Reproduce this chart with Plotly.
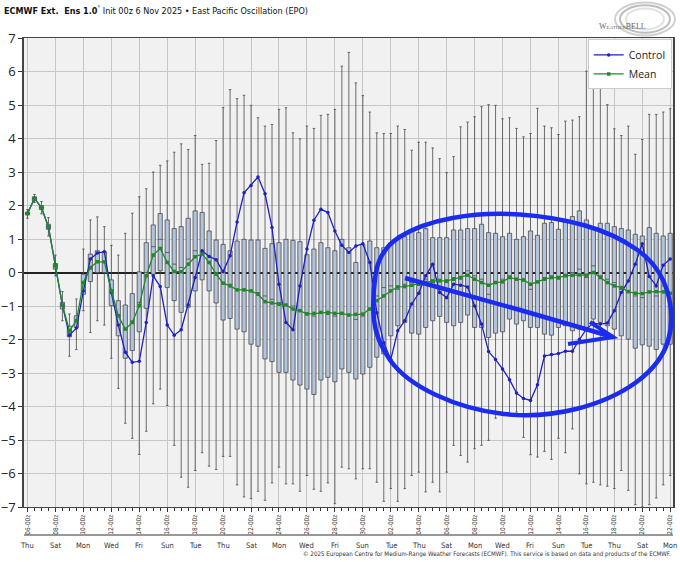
import plotly.graph_objects as go

# ECMWF extended ensemble EPO, init 00z 6 Nov 2025, 12-hourly steps (hours since init)
STEP_HOURS = list(range(0, 1105, 12))

CONTROL = [1.76, 2.21, 1.94, 1.36, 0.20, -0.98, -1.87, -1.66, -0.55, 0.40,
           0.58, 0.62, -0.60, -1.57, -2.38, -2.68, -2.65, -1.49, -0.10, -0.42,
           -1.57, -1.87, -1.71, -0.97, -0.15, 0.65, 0.48, 0.38, 0.02, 0.50,
           1.51, 2.38, 2.60, 2.85, 2.35, 1.34, -0.35, -1.49, -1.71, -0.40,
           0.70, 1.56, 1.89, 1.79, 1.24, 0.81, 0.60, 0.79, 0.86, 0.30,
           -1.20, -2.10, -2.60, -1.74, -1.44, -0.94, -0.62, -0.10, 0.25, -0.60,
           -0.75, -0.35, -0.38, -0.43, -1.00, -1.54, -2.36, -2.60, -2.88, -3.20,
           -3.60, -3.76, -3.82, -3.35, -2.49, -2.45, -2.42, -2.35, -2.35, -2.00,
           -1.69, -1.51, -1.54, -1.51, -1.14, -0.60, -0.25, 0.25, 0.86, -0.12,
           -0.40, 0.22, 0.40]

MEAN = [1.76, 2.21, 1.94, 1.36, 0.20, -0.97, -1.74, -1.44, -0.30, 0.15,
        0.32, 0.32, -0.55, -1.29, -1.69, -1.49, -0.99, -0.10, 0.52, 0.72,
        0.30, 0.03, 0.02, 0.25, 0.47, 0.55, 0.30, -0.05, -0.32, -0.40,
        -0.52, -0.52, -0.55, -0.65, -0.87, -0.91, -0.95, -0.97, -1.09, -1.14,
        -1.24, -1.22, -1.19, -1.19, -1.22, -1.22, -1.27, -1.25, -1.24, -1.09,
        -0.84, -0.70, -0.55, -0.43, -0.42, -0.38, -0.35, -0.30, -0.25, -0.25,
        -0.25, -0.20, -0.15, -0.08, -0.20, -0.30, -0.38, -0.30, -0.28, -0.15,
        -0.20, -0.22, -0.35, -0.28, -0.20, -0.15, -0.15, -0.10, -0.08, -0.07,
        -0.08, 0.00, -0.15, -0.30, -0.40, -0.45, -0.57, -0.62, -0.63, -0.58,
        -0.57, -0.58, -0.62]

MEDIAN = [1.76, 2.21, 1.94, 1.36, 0.20, -0.98, -1.76, -1.46, -0.32, 0.10,
          0.30, 0.30, -0.55, -1.30, -1.70, -1.45, -0.90, 0.00, 0.77, 0.99,
          0.60, 0.25, 0.15, 0.40, 0.65, 0.62, 0.30, 0.00, -0.30, -0.35,
          -0.50, -0.50, -0.55, -0.60, -0.70, -0.80, -0.90, -0.98, -1.00, -1.15,
          -1.20, -1.30, -1.20, -1.25, -1.30, -1.20, -1.25, -1.40, -1.30, -1.10,
          -0.70, -0.45, -0.40, -0.50, -0.35, -0.30, -0.25, -0.20, -0.30, -0.20,
          -0.30, -0.15, -0.20, 0.05, -0.10, -0.20, -0.65, -0.30, -0.20, -0.10,
          -0.20, -0.25, -0.50, -0.30, -0.15, -0.10, -0.20, -0.05, 0.00, 0.10,
          -0.15, 0.20, -0.10, -0.20, -0.30, -0.50, -0.60, -0.70, -0.75, -0.60,
          -0.70, -0.40, -0.60]

Q1 = [1.72, 2.15, 1.88, 1.29, 0.10, -1.09, -1.92, -1.64, -0.65, -0.27,
      0.00, 0.00, -0.99, -1.89, -2.56, -2.33, -1.77, -1.07, -0.05, 0.05,
      -0.45, -0.84, -1.19, -1.04, -0.55, -0.22, -0.55, -0.91, -1.42, -1.37,
      -1.69, -1.77, -2.14, -2.20, -2.58, -2.66, -2.98, -2.98, -3.21, -3.36,
      -3.48, -3.64, -3.21, -3.13, -3.26, -2.88, -2.98, -3.18, -3.03, -2.83,
      -2.53, -2.43, -1.89, -1.59, -1.49, -1.81, -1.84, -1.64, -1.44, -1.31,
      -1.49, -1.59, -1.49, -1.27, -1.64, -1.64, -1.94, -1.81, -1.77, -1.39,
      -1.54, -1.44, -1.64, -1.64, -1.84, -1.87, -1.64, -1.59, -1.74, -1.69,
      -1.64, -1.39, -1.49, -1.59, -1.69, -1.89, -1.99, -2.26, -2.16, -2.20,
      -2.30, -2.14, -2.14]

Q3 = [1.80, 2.26, 2.00, 1.44, 0.27, -0.89, -1.60, -1.29, -0.05, 0.55,
      0.65, 0.62, -0.22, -0.84, -0.97, -0.63, 0.02, 0.89, 1.42, 1.76,
      1.57, 1.31, 1.37, 1.62, 1.84, 1.79, 1.24, 0.97, 0.84, 0.65,
      0.94, 0.99, 0.97, 0.97, 0.72, 0.86, 0.89, 0.99, 0.96, 0.92,
      0.53, 0.70, 0.89, 0.74, 0.65, 0.99, 0.74, 0.30, 0.84, 0.94,
      0.74, 0.74, 0.89, 0.99, 1.07, 1.24, 1.19, 1.31, 1.04, 1.04,
      1.04, 1.27, 1.27, 1.31, 1.31, 1.44, 1.19, 1.17, 1.07, 1.17,
      0.99, 1.07, 1.24, 1.11, 1.47, 1.49, 1.29, 1.51, 1.67, 1.84,
      1.57, 1.31, 1.47, 1.47, 1.37, 1.31, 1.27, 1.14, 1.09, 1.34,
      1.17, 1.09, 1.17]

ENS_MIN = [1.62, 2.09, 1.75, 1.09, -0.10, -1.44, -2.50, -2.30, -1.14, -1.79,
           -1.44, -1.57, -2.56, -3.46, -4.50, -4.95, -5.43, -4.74, -3.92, -3.48,
           -3.97, -5.16, -6.11, -6.41, -5.91, -5.38, -5.78, -5.88, -5.49, -5.49,
           -6.34, -6.70, -6.75, -6.53, -6.80, -6.28, -5.81, -6.31, -6.31, -6.53,
           -6.06, -6.47, -6.53, -6.28, -6.90, -5.81, -5.86, -6.16, -5.86, -5.86,
           -6.26, -6.83, -6.45, -6.83, -6.45, -6.06, -5.96, -6.55, -6.26, -6.55,
           -5.96, -5.16, -5.46, -5.66, -5.26, -5.16, -5.01, -4.35, -4.27, -4.22,
           -4.17, -4.92, -5.44, -5.51, -5.34, -5.58, -4.95, -5.38, -4.67, -6.01,
           -6.31, -6.26, -6.34, -6.38, -6.45, -5.91, -6.50, -6.93, -7.00, -6.93,
           -6.73, -6.34, -6.06]

ENS_MAX = [1.88, 2.33, 2.12, 1.64, 0.52, -0.57, -1.24, -0.79, 0.70, 1.57,
           1.66, 1.37, 0.81, 0.52, 1.17, 1.77, 2.26, 2.50, 3.00, 3.20,
           3.33, 3.59, 3.84, 3.67, 4.09, 3.23, 3.26, 3.94, 4.92, 5.46,
           5.19, 5.29, 4.99, 4.62, 4.37, 4.42, 4.87, 4.92, 4.17, 3.99,
           4.37, 4.30, 4.69, 4.72, 4.87, 6.16, 6.57, 5.66, 5.28, 4.79,
           4.17, 4.15, 4.15, 4.37, 4.27, 3.65, 3.89, 3.89, 3.72, 3.40,
           2.98, 3.46, 4.35, 4.49, 4.65, 4.95, 5.01, 4.99, 4.59, 4.62,
           4.30, 4.05, 4.15, 4.90, 4.37, 4.32, 4.12, 4.52, 4.55, 4.65,
           6.01, 6.41, 5.71, 5.01, 4.29, 4.09, 4.37, 3.53, 3.97, 4.72,
           4.72, 4.79, 4.89]

DATE_LABELS = ["06-00z", "08-00z", "10-00z", "12-00z", "14-00z", "16-00z",
               "18-00z", "20-00z", "22-00z", "24-00z", "26-00z", "28-00z",
               "30-00z", "02-00z", "04-00z", "06-00z", "08-00z", "10-00z",
               "12-00z", "14-00z", "16-00z", "18-00z", "20-00z", "22-00z"]
DAY_NAMES = ["Thu", "Sat", "Mon", "Wed", "Fri", "Sun", "Tue", "Thu", "Sat", "Mon",
             "Wed", "Fri", "Sun", "Tue", "Thu", "Sat", "Mon", "Wed", "Fri", "Sun",
             "Tue", "Thu", "Sat", "Mon"]

TITLE_BOLD = "ECMWF Ext.  Ens 1.0"
TITLE_REST = " Init 00z 6 Nov 2025 • East Pacific Oscillation (EPO)"
CREDIT = ("© 2025 European Centre for Medium-Range Weather Forecasts (ECMWF). "
          "This service is based on data and products of the ECMWF.")

days = [h / 24 for h in STEP_HOURS]
label_days = [2 * i for i in range(len(DATE_LABELS))]

NARROW = "Liberation Sans Narrow, DejaVu Sans Condensed, sans-serif"
W, H = 680, 562
L, R, T, B = 24, 7, 38, 55
PW, PH = W - L - R, H - T - B

fig = go.Figure()

fig.add_trace(go.Box(
    x=days, q1=Q1, median=MEDIAN, q3=Q3, lowerfence=ENS_MIN, upperfence=ENS_MAX,
    width=0.3, whiskerwidth=0.6, boxpoints=False,
    fillcolor="#b3c3dc", line=dict(color="#4a4a4a", width=0.8),
    showlegend=False, hoverinfo="skip",
))
fig.add_trace(go.Scatter(
    x=days, y=CONTROL, name="Control", mode="lines+markers",
    line=dict(color="#1f1fc4", width=1.3), marker=dict(size=3.5, color="#1f1fc4"),
))
fig.add_trace(go.Scatter(
    x=days, y=MEAN, name="Mean", mode="lines+markers",
    line=dict(color="#1f8a2a", width=1.3),
    marker=dict(size=3.5, symbol="square", color="#1f8a2a"),
))


# hand drawn highlight (pixel positions -> paper coords)
def px(xp, yp):
    return (xp - L) / PW, (H - B - yp) / PH


def smooth_closed(points):
    pts = [px(*p) for p in points]
    n = len(pts)
    mids = [((pts[i][0] + pts[(i + 1) % n][0]) / 2, (pts[i][1] + pts[(i + 1) % n][1]) / 2)
            for i in range(n)]
    path = f"M{mids[-1][0]},{mids[-1][1]}"
    for i in range(n):
        path += f" Q{pts[i][0]},{pts[i][1]} {mids[i][0]},{mids[i][1]}"
    return path


def polyline(points):
    pts = [px(*p) for p in points]
    return "M" + " L".join(f"{x},{y}" for x, y in pts)


loop = [(372, 300), (379, 250), (420, 224), (485, 212), (555, 217), (615, 234),
        (660, 266), (675, 318), (661, 364), (612, 400), (540, 418), (468, 410),
        (404, 380), (376, 340)]
blue = "#1b2cf0"
fig.add_shape(type="path", xref="paper", yref="paper", path=smooth_closed(loop),
              line=dict(color=blue, width=4.5))
fig.add_shape(type="path", xref="paper", yref="paper",
              path=polyline([(405, 278), (520, 310), (613, 337)]),
              line=dict(color=blue, width=4.5))
fig.add_shape(type="path", xref="paper", yref="paper",
              path=polyline([(590, 322), (613, 337), (568, 344)]),
              line=dict(color=blue, width=4))

# separator line under the date labels
fig.add_shape(type="line", xref="paper", yref="paper", x0=0, x1=1,
              y0=-28 / PH, y1=-28 / PH, line=dict(color="#333", width=1))

for d, name in zip(label_days, DAY_NAMES):
    fig.add_annotation(x=d, y=-38 / PH, xref="x", yref="paper", text=name,
                       showarrow=False, font=dict(size=7.5, color="#333", family=NARROW),
                       yanchor="middle")

fig.add_annotation(x=1, y=-47 / PH, xref="paper", yref="paper", text=CREDIT,
                   showarrow=False, xanchor="right", yanchor="middle",
                   font=dict(size=6.2, color="#333", family=NARROW))

# WeatherBELL logo
cx, cy = px(645, 19)
for r, c in [(30, "#d0d0d0"), (25, "#bdbdbd"), (19, "#e2e2e2")]:
    rx, ry = r / PW, (r * 0.55) / PH
    fig.add_shape(type="circle", xref="paper", yref="paper",
                  x0=cx - rx, x1=cx + rx, y0=cy - ry, y1=cy + ry,
                  line=dict(color=c, width=2), fillcolor="rgba(0,0,0,0)")
lx, ly = px(648, 20)
fig.add_annotation(x=lx, y=ly, xref="paper", yref="paper",
                   text="W<span style='font-size:5px'>EATHER</span>BELL",
                   showarrow=False, font=dict(size=8, color="#666", family="Liberation Serif"))

fig.update_layout(
    width=W, height=H,
    margin=dict(l=L, r=R, t=T, b=B, autoexpand=False),
    paper_bgcolor="white", plot_bgcolor="#f1f1f1",
    title=dict(
        text=f"<b>{TITLE_BOLD}</b><sup>°</sup>{TITLE_REST}",
        x=4 / W, xanchor="left", y=1 - 11 / H, yanchor="middle",
        font=dict(size=9, color="#111", family=NARROW),
    ),
    legend=dict(x=0.998, y=0.997, xanchor="right", yanchor="top",
                bgcolor="white", bordercolor="#cccccc", borderwidth=1,
                font=dict(size=10.5, color="#222", family="Open Sans"),
                itemwidth=30, tracegroupgap=0),
    xaxis=dict(
        range=[-0.25, 46.2], tickmode="array", tickvals=label_days, ticktext=DATE_LABELS,
        tickangle=-90, tickfont=dict(size=6.5, color="#333", family=NARROW),
        ticks="outside", ticklen=4, tickcolor="#333", automargin=False,
        minor=dict(dtick=0.5, tick0=0, ticks="outside", ticklen=3, tickcolor="#333", showgrid=False),
        showgrid=True, gridcolor="#c6c6c6", gridwidth=1,
        showline=True, linecolor="#444", linewidth=1, mirror=True, zeroline=False,
    ),
    yaxis=dict(
        range=[-7, 7], dtick=1, tickfont=dict(size=13, color="#222", family="Open Sans"),
        ticks="outside", ticklen=4, tickcolor="#333", automargin=False,
        showgrid=True, gridcolor="#c6c6c6", gridwidth=1,
        showline=True, linecolor="#444", linewidth=1.5, mirror=True,
        zeroline=True, zerolinecolor="#222", zerolinewidth=1.5,
    ),
)

fig.write_html("out.html", config={"displayModeBar": False},
               post_script="document.body.style.margin = '0';")
